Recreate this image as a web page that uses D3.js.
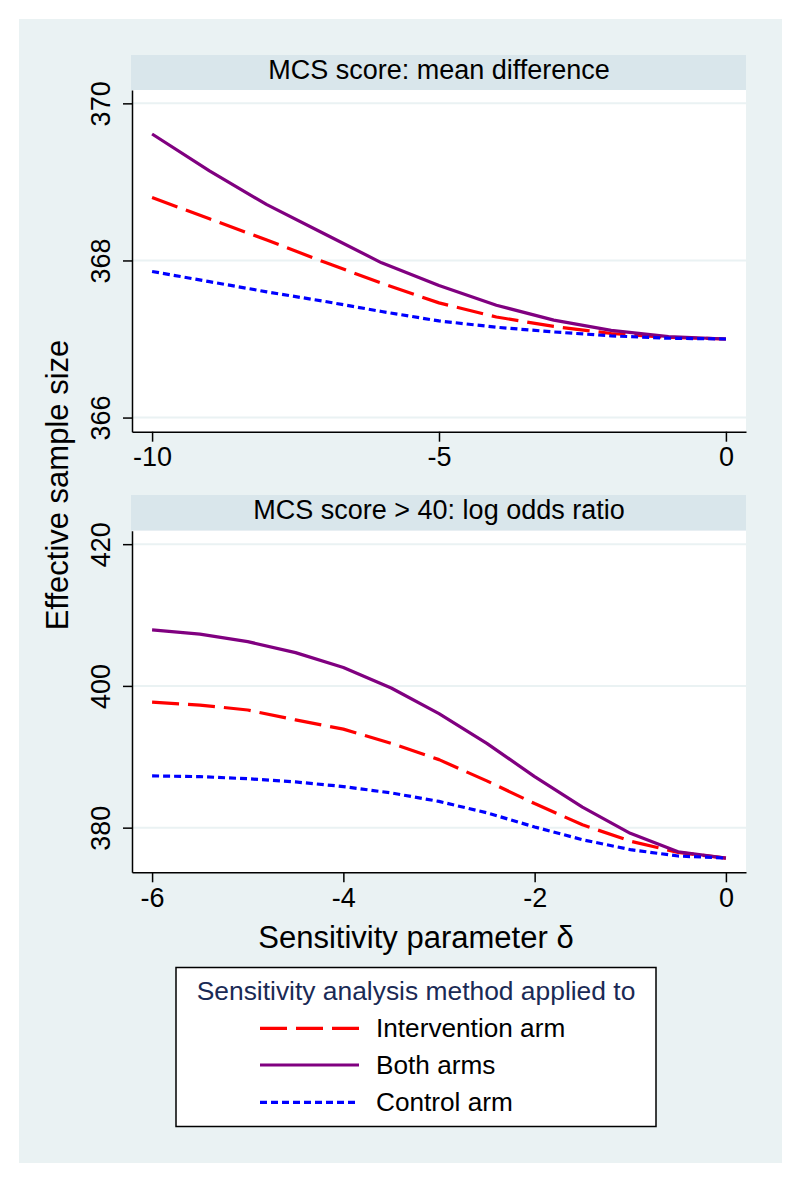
<!DOCTYPE html>
<html>
<head>
<meta charset="utf-8">
<script src="https://cdn.jsdelivr.net/npm/d3@7"></script>
<style>
  html, body { margin: 0; padding: 0; background: #ffffff; }
  svg { display: block; }
  text { font-family: "Liberation Sans", Arial, Helvetica, sans-serif; }
</style>
</head>
<body>
<script>
// ---------------- data ----------------
const seriesNames = ["Intervention arm", "Both arms", "Control arm"];
const seriesColors = ["#ff0000", "#800080", "#0000ff"];

const panelTitles = ["MCS score: mean difference", "MCS score > 40: log odds ratio"];

const xTop = [-10, -9, -8, -7, -6, -5, -4, -3, -2, -1, 0];
const topIntervention = [368.80, 368.53, 368.26, 367.98, 367.71, 367.46, 367.28, 367.16, 367.07, 367.02, 367.00];
const topBoth         = [369.61, 369.14, 368.71, 368.34, 367.97, 367.68, 367.43, 367.24, 367.11, 367.03, 367.00];
const topControl      = [367.86, 367.73, 367.60, 367.48, 367.35, 367.23, 367.15, 367.09, 367.04, 367.01, 367.00];

const xBottom = [-6, -5.5, -5, -4.5, -4, -3.5, -3, -2.5, -2, -1.5, -1, -0.5, 0];
const botIntervention = [397.7, 397.3, 396.6, 395.2, 393.9, 391.9, 389.6, 386.6, 383.4, 380.4, 378.1, 376.5, 375.7];
const botBoth         = [407.9, 407.3, 406.25, 404.7, 402.6, 399.7, 396.1, 391.9, 387.2, 382.9, 379.2, 376.6, 375.7];
const botControl      = [387.3, 387.2, 386.9, 386.45, 385.8, 384.9, 383.7, 382.1, 380.1, 378.3, 376.9, 376.0, 375.7];

const topXTicks = [-10, -5, 0];
const topYTicks = [366, 368, 370];
const botXTicks = [-6, -4, -2, 0];
const botYTicks = [380, 400, 420];

const xTitle = "Sensitivity parameter δ";
const yTitle = "Effective sample size";
const legendTitle = "Sensitivity analysis method applied to";

// ---------------- layout ----------------
const W = 800, H = 1181;
const svg = d3.select("body").append("svg").attr("width", W).attr("height", H);

svg.append("rect").attr("x", 19).attr("y", 19).attr("width", 763).attr("height", 1144).attr("fill", "#eaf2f3");

const dashStyles = ["27,9", null, "7,4"];
const widths = [3.2, 3.2, 3.2];

const panels = [
  { title: panelTitles[0], x: xTop, series: [topIntervention, topBoth, topControl],
    xDomain: [-10.35, 0.35], yDomain: [365.82, 370.17], xTicks: topXTicks, yTicks: topYTicks,
    stripTop: 55, top: 90, bottom: 431.7 },
  { title: panelTitles[1], x: xBottom, series: [botIntervention, botBoth, botControl],
    xDomain: [-6.21, 0.21], yDomain: [373.7, 421.9], xTicks: botXTicks, yTicks: botYTicks,
    stripTop: 495, top: 530.7, bottom: 872.3 }
];

const left = 132, right = 746;

panels.forEach(p => {
  const g = svg.append("g");
  // strip
  g.append("rect").attr("x", left - 1).attr("y", p.stripTop).attr("width", right - left + 1)
    .attr("height", p.top - p.stripTop).attr("fill", "#d9e6eb");
  g.append("text").attr("x", (left + right) / 2).attr("y", p.stripTop + 24)
    .attr("text-anchor", "middle").attr("font-size", 27).attr("fill", "#000").text(p.title);
  // plot area
  g.append("rect").attr("x", left).attr("y", p.top).attr("width", right - left)
    .attr("height", p.bottom - p.top).attr("fill", "#ffffff");

  const x = d3.scaleLinear().domain(p.xDomain).range([left, right]);
  const y = d3.scaleLinear().domain(p.yDomain).range([p.bottom, p.top]);

  // grid
  g.selectAll(".grid").data(p.yTicks).enter().append("line")
    .attr("x1", left).attr("x2", right)
    .attr("y1", d => y(d)).attr("y2", d => y(d))
    .attr("stroke", "#eaf2f3").attr("stroke-width", 2);

  // lines
  const line = d3.line().x((d, i) => x(p.x[i])).y(d => y(d));
  p.series.forEach((s, k) => {
    const path = g.append("path").datum(s).attr("d", line)
      .attr("fill", "none").attr("stroke", seriesColors[k])
      .attr("stroke-width", widths[k]).attr("stroke-linejoin", "round");
    if (dashStyles[k]) path.attr("stroke-dasharray", dashStyles[k]);
  });

  // y axis
  const ya = g.append("g").attr("transform", `translate(${left},0)`)
    .call(d3.axisLeft(y).tickValues(p.yTicks).tickSize(9).tickSizeOuter(0).tickFormat(d3.format("d")));
  ya.select(".domain").attr("stroke", "#000").attr("stroke-width", 1.5);
  ya.selectAll(".tick line").attr("stroke", "#000").attr("stroke-width", 1.5);
  ya.selectAll(".tick text")
    .attr("transform", "rotate(-90)")
    .attr("x", 0).attr("y", -22).attr("dy", 0)
    .attr("text-anchor", "middle")
    .attr("font-size", 27).attr("fill", "#000")
    .attr("font-family", "'Liberation Sans', Arial, sans-serif");

  // x axis
  const xa = g.append("g").attr("transform", `translate(0,${p.bottom})`)
    .call(d3.axisBottom(x).tickValues(p.xTicks).tickSize(10).tickSizeOuter(0).tickFormat(d3.format("d")));
  xa.select(".domain").attr("stroke", "#000").attr("stroke-width", 1.5);
  xa.selectAll(".tick line").attr("stroke", "#000").attr("stroke-width", 1.5);
  xa.selectAll(".tick text")
    .attr("y", 34.5).attr("dy", 0)
    .attr("font-size", 27).attr("fill", "#000")
    .attr("font-family", "'Liberation Sans', Arial, sans-serif")
    .text(d => d < 0 ? "-" + Math.abs(d) : String(d));
});

// axis titles
svg.append("text").attr("x", 416).attr("y", 948).attr("text-anchor", "middle")
  .attr("font-size", 31).attr("fill", "#000").text(xTitle);
svg.append("text").attr("transform", "translate(67.5,485) rotate(-90)").attr("text-anchor", "middle")
  .attr("font-size", 31).attr("fill", "#000").text(yTitle);

// legend
const lg = svg.append("g");
lg.append("rect").attr("x", 176).attr("y", 967.5).attr("width", 480).attr("height", 159)
  .attr("fill", "#ffffff").attr("stroke", "#000").attr("stroke-width", 1.5);
lg.append("text").attr("x", 416).attr("y", 1000).attr("text-anchor", "middle")
  .attr("font-size", 26.4).attr("fill", "#1a2a55").text(legendTitle);
const legY = [1028.3, 1065, 1102.3];
seriesNames.forEach((name, k) => {
  const l = lg.append("line").attr("x1", 260).attr("x2", 359).attr("y1", legY[k]).attr("y2", legY[k])
    .attr("stroke", seriesColors[k]).attr("stroke-width", widths[k]);
  if (dashStyles[k]) l.attr("stroke-dasharray", dashStyles[k]);
  lg.append("text").attr("x", 376).attr("y", legY[k] + 9).attr("font-size", 26.2)
    .attr("fill", "#000").text(name);
});
</script>
</body>
</html>
